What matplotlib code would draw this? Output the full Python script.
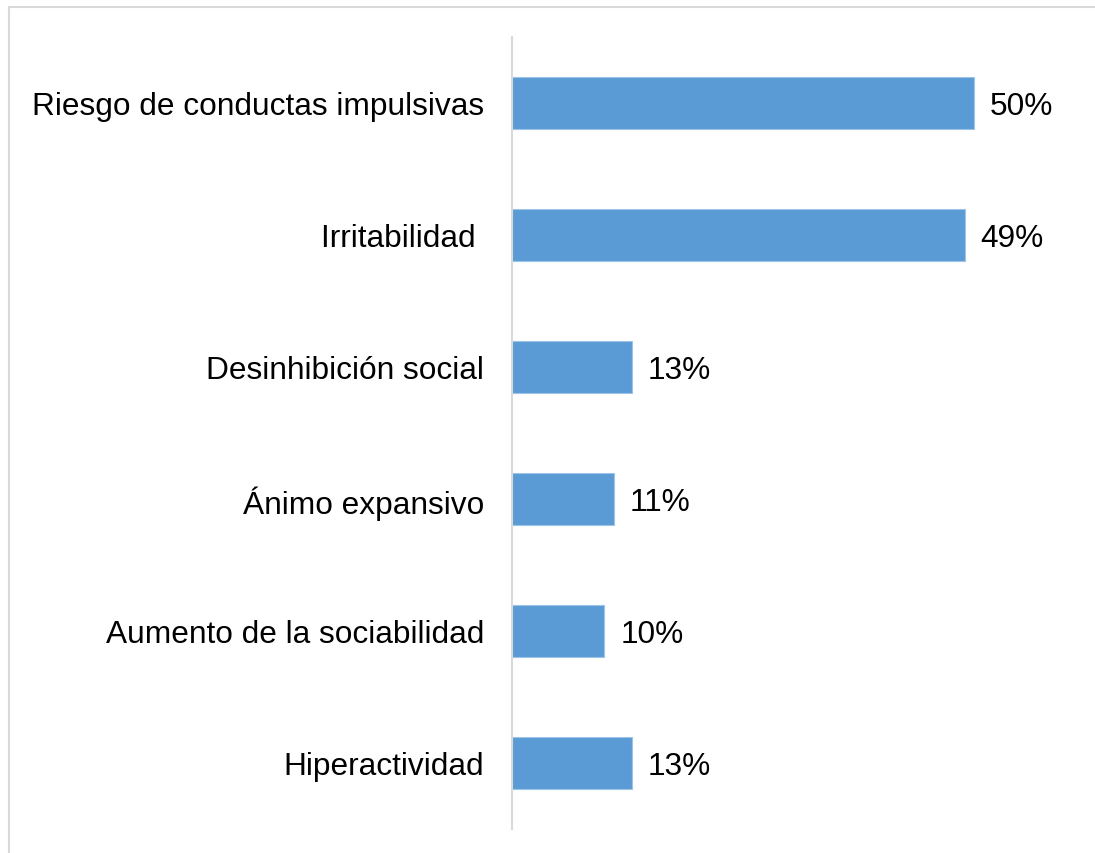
import matplotlib.pyplot as plt
from matplotlib.patches import Rectangle

plt.rcParams['font.family'] = ['Liberation Sans', 'DejaVu Sans']

# Datos (porcentajes)
categorias = ['Riesgo de conductas impulsivas', 'Irritabilidad ', 'Desinhibición social',
              'Ánimo expansivo', 'Aumento de la sociabilidad', 'Hiperactividad']
valores = [50, 49, 13, 11, 10, 13]

W, H = 1095, 854
fig = plt.figure(figsize=(W / 100, H / 100), dpi=100)

# marco gris claro
fig.patches.append(Rectangle((9 / W, -0.1), 1.2, (H - 8) / H + 0.1, transform=fig.transFigure,
                             fill=False, edgecolor='#d9d9d9', linewidth=1.5))

ax = fig.add_axes([512 / W, 24 / H, 550 / W, 792 / H])
pos = list(range(len(categorias)))[::-1]
ax.barh(pos, valores, height=0.395, color='#5b9bd5', edgecolor='#9dc3e6', linewidth=0.8)

for y, v in zip(pos, valores):
    ax.text(v + 1.7, y - 0.02, f'{v}%', va='center', ha='left', fontsize=22.8, color='black')

ax.set_xlim(0, 59.5)
ax.set_ylim(-0.5, len(categorias) - 0.5)
ax.set_yticks(pos)
ax.set_yticklabels(categorias, fontsize=22.8)
ax.tick_params(axis='y', length=0, pad=20)
ax.set_xticks([])
for s in ['top', 'right', 'bottom']:
    ax.spines[s].set_visible(False)
ax.spines['left'].set_color('#d9d9d9')
ax.spines['left'].set_linewidth(1.5)

fig.savefig('out.png', dpi=100)
